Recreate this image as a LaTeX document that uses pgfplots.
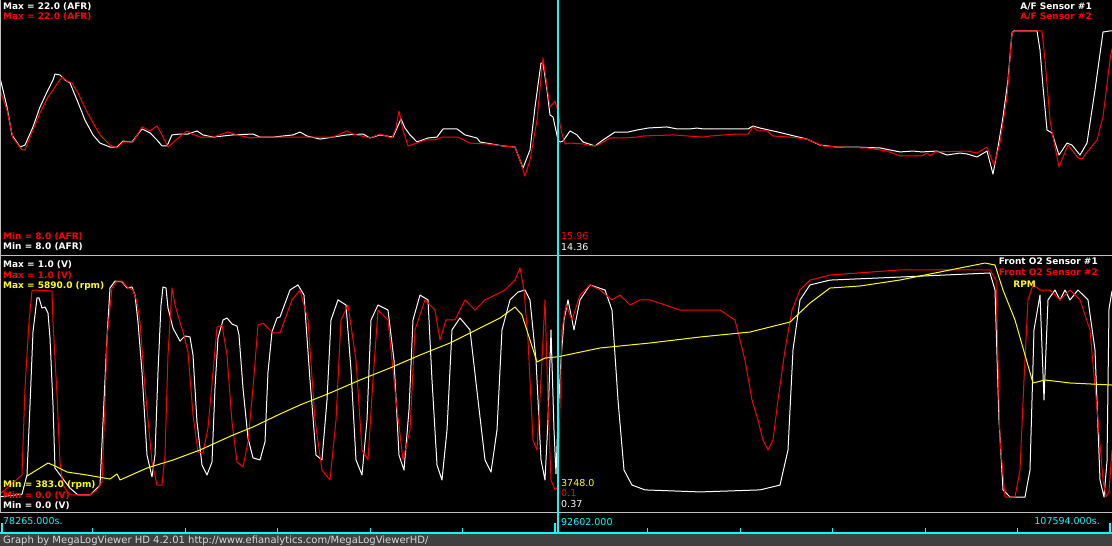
\documentclass[border=0pt]{standalone}
\usepackage{pgfplots}
\pgfplotsset{compat=1.18}
\usepackage{fontspec}
\setmainfont{DejaVu Sans}
\definecolor{mlvgrey}{HTML}{C0C0C0}
\definecolor{footgrey}{HTML}{404040}
\definecolor{foottext}{HTML}{D8D8D8}
\definecolor{mlvred}{HTML}{FF0000}
\definecolor{mlvyellow}{HTML}{FFFF00}
\definecolor{mlvcyan}{HTML}{00FFFF}
\newcommand{\lbl}{\fontsize{9}{9}\selectfont\bfseries}
\newcommand{\val}{\fontsize{9.5}{10}\selectfont}
\pgfplotsset{mlv/.style={scale only axis, anchor=south west, width=1112pt, xmin=0, xmax=1112, axis line style={draw=none}, xtick=\empty, ytick=\empty, clip=true, no markers, every axis plot/.append style={line width=1pt, line join=round}}}
\begin{document}
\begin{tikzpicture}
\useasboundingbox (0pt,0pt) rectangle (1112pt,546pt);
\fill[black] (0pt,0pt) rectangle (1112pt,546pt);
\fill[footgrey] (0pt,0pt) rectangle (1112pt,12.5pt);
% ---------------- top panel: A/F ----------------
\begin{axis}[mlv, at={(0pt,290.8pt)}, height=253.6pt, ymin=8, ymax=22]
\addplot[white] coordinates {
(0,17.78)(3,17.12)(7,16.18)(12,14.64)(20,13.97)(25,14.08)(33,15.08)(40,16.18)(47,17.01)(53,17.67)(55,18.00)(60,17.95)(65,17.67)(70,17.51)(77,16.57)(85,15.46)(93,14.64)(100,14.19)(110,13.97)(117,13.97)(123,14.30)(132,14.25)(142,14.97)(150,14.75)(157,14.36)(162,14.03)(167,14.03)(172,14.64)(180,14.69)(188,14.69)(197,14.86)(203,14.64)(213,14.52)(233,14.64)(253,14.69)(260,14.52)(273,14.52)(293,14.64)(300,14.80)(307,14.58)(320,14.41)(333,14.52)(347,14.64)(363,14.69)(370,14.47)(380,14.64)(393,14.52)(401,15.52)(405,15.02)(410,14.64)(417,14.25)(428,14.47)(437,14.52)(443,14.97)(457,14.97)(465,14.64)(477,14.47)(480,14.25)(503,14.03)(515,13.97)(523,12.81)(530,13.81)(535,16.18)(541,18.61)(543,18.61)(547,17.12)(550,15.74)(553,15.63)(558,14.36)(560,14.25)(563,14.30)(570,14.86)(577,14.64)(583,14.25)(595,14.03)(603,14.36)(615,14.80)(628,14.80)(637,14.91)(648,15.02)(667,15.08)(677,14.97)(690,14.97)(697,15.02)(703,14.97)(740,14.97)(748,14.97)(753,15.13)(760,15.02)(778,14.80)(807,14.41)(820,14.08)(837,13.97)(855,13.97)(880,13.92)(890,13.81)(900,13.70)(913,13.75)(922,13.70)(937,13.75)(947,13.53)(960,13.64)(967,13.59)(977,13.42)(987,13.75)(993,12.48)(998,13.97)(1003,15.63)(1008,17.67)(1012,20.27)(1014,20.38)(1037,20.38)(1040,19.33)(1043,17.29)(1047,14.91)(1052,14.75)(1059,13.53)(1067,14.19)(1072,14.08)(1080,13.53)(1087,14.19)(1095,17.12)(1103,20.32)(1110,20.38)(1112,20.38)
};
\addplot[mlvred] coordinates {
(0,17.12)(7,16.02)(13,14.47)(22,13.81)(25,13.81)(33,14.91)(40,15.85)(48,16.73)(55,17.29)(62,17.84)(67,17.62)(72,17.51)(78,16.95)(87,15.90)(100,14.64)(110,14.08)(117,13.92)(123,14.25)(133,14.25)(142,15.08)(150,14.86)(157,15.13)(162,14.64)(168,13.97)(177,14.41)(187,14.86)(192,14.69)(200,14.52)(213,14.52)(228,14.80)(237,14.64)(250,14.47)(260,14.52)(300,14.52)(333,14.52)(347,14.86)(353,14.69)(370,14.47)(380,14.69)(392,14.47)(396,15.02)(399,15.96)(403,14.91)(408,14.03)(417,14.19)(425,14.36)(435,14.36)(442,14.52)(458,14.52)(470,14.19)(487,14.14)(503,14.03)(515,13.97)(520,13.25)(525,12.37)(530,13.25)(537,15.46)(543,18.89)(547,17.29)(550,16.18)(555,16.51)(558,15.96)(561,14.91)(565,14.14)(570,14.19)(583,14.14)(592,14.03)(598,14.08)(610,14.47)(623,14.47)(637,14.52)(643,14.58)(673,14.64)(703,14.52)(710,14.58)(737,14.69)(748,14.69)(753,15.08)(758,14.86)(767,14.86)(773,14.58)(790,14.52)(807,14.41)(823,14.03)(837,13.97)(867,13.92)(887,13.75)(900,13.48)(922,13.48)(927,13.64)(930,13.48)(935,13.70)(967,13.75)(977,13.64)(987,13.97)(994,12.98)(1000,14.19)(1007,16.73)(1012,20.27)(1015,20.38)(1042,20.38)(1045,18.78)(1050,15.46)(1053,14.52)(1059,12.87)(1068,14.08)(1078,13.37)(1082,13.31)(1088,13.75)(1097,14.36)(1103,15.63)(1110,18.78)(1112,19.4)
};
\end{axis}
% ---------------- bottom panel: O2 sensors ----------------
\begin{axis}[mlv, at={(0pt,34pt)}, height=254pt, ymin=0, ymax=1]
\addplot[white] coordinates {
(0,0.06)(22,0.07)(27,0.146)(30,0.421)(33,0.709)(37,0.843)(39,0.843)(42,0.803)(45,0.807)(48,0.783)(50,0.685)(53,0.421)(55,0.173)(60,0.146)(70,0.094)(78,0.067)(90,0.067)(100,0.106)(103,0.354)(107,0.685)(110,0.882)(115,0.909)(122,0.906)(127,0.882)(132,0.886)(135,0.854)(138,0.748)(142,0.551)(147,0.224)(152,0.138)(155,0.224)(158,0.551)(161,0.815)(163,0.886)(166,0.882)(168,0.803)(173,0.724)(180,0.673)(185,0.693)(190,0.689)(193,0.618)(197,0.354)(202,0.185)(207,0.146)(212,0.197)(215,0.488)(218,0.685)(223,0.756)(227,0.764)(232,0.740)(237,0.732)(239,0.697)(243,0.488)(248,0.291)(253,0.213)(260,0.205)(265,0.276)(268,0.551)(272,0.709)(277,0.764)(280,0.768)(290,0.874)(298,0.894)(304,0.854)(310,0.520)(316,0.224)(322,0.205)(327,0.441)(331,0.756)(338,0.835)(346,0.815)(351,0.559)(356,0.205)(362,0.146)(367,0.362)(371,0.756)(378,0.815)(388,0.795)(394,0.598)(399,0.224)(404,0.165)(409,0.402)(413,0.756)(420,0.854)(428,0.835)(432,0.520)(437,0.185)(442,0.126)(447,0.323)(452,0.717)(460,0.764)(470,0.717)(478,0.441)(485,0.205)(491,0.157)(497,0.323)(502,0.717)(510,0.835)(518,0.866)(525,0.874)(530,0.835)(536,0.598)(541,0.205)(545,0.126)(548,0.362)(551,0.717)(554,0.323)(556,0.15)(558,0.37)(561,0.6)(564,0.756)(568,0.835)(574,0.717)(580,0.835)(590,0.894)(605,0.874)(612,0.795)(618,0.441)(624,0.165)(632,0.106)(645,0.087)(700,0.079)(760,0.087)(780,0.106)(788,0.244)(793,0.638)(800,0.835)(810,0.894)(830,0.913)(900,0.925)(990,0.941)(995,0.874)(999,0.362)(1003,0.087)(1010,0.059)(1025,0.059)(1030,0.165)(1034,0.717)(1040,0.854)(1044,0.441)(1048,0.835)(1055,0.874)(1060,0.835)(1065,0.874)(1070,0.835)(1078,0.874)(1088,0.835)(1095,0.638)(1100,0.126)(1104,0.059)(1107,0.2)(1109,0.8)(1112,0.87)
};
\addplot[mlvred] coordinates {
(0,0.071)(7,0.094)(22,0.146)(25,0.488)(29,0.748)(32,0.870)(33,0.874)(52,0.870)(53,0.748)(57,0.461)(60,0.197)(63,0.106)(70,0.067)(90,0.067)(97,0.087)(102,0.118)(105,0.421)(107,0.685)(112,0.882)(117,0.909)(122,0.909)(127,0.886)(133,0.874)(137,0.827)(140,0.748)(145,0.488)(152,0.197)(157,0.106)(162,0.106)(165,0.224)(168,0.618)(172,0.882)(175,0.815)(180,0.748)(183,0.709)(188,0.630)(193,0.382)(198,0.236)(203,0.232)(208,0.331)(213,0.551)(217,0.728)(222,0.736)(227,0.618)(232,0.354)(237,0.197)(243,0.177)(248,0.276)(253,0.488)(258,0.736)(263,0.744)(267,0.728)(273,0.705)(280,0.705)(292,0.835)(300,0.874)(308,0.756)(315,0.362)(322,0.165)(330,0.126)(336,0.362)(341,0.756)(348,0.815)(356,0.598)(362,0.244)(368,0.205)(373,0.520)(378,0.795)(388,0.756)(396,0.441)(403,0.205)(410,0.323)(415,0.717)(425,0.835)(435,0.795)(440,0.677)(446,0.756)(455,0.756)(465,0.835)(475,0.795)(485,0.835)(495,0.854)(505,0.874)(515,0.913)(520,0.961)(524,0.874)(528,0.677)(533,0.283)(537,0.244)(541,0.520)(545,0.835)(548,0.441)(551,0.126)(555,0.087)(558,0.1)(562,0.717)(566,0.815)(572,0.756)(580,0.854)(590,0.894)(600,0.874)(612,0.835)(620,0.854)(630,0.815)(640,0.835)(650,0.835)(665,0.815)(680,0.795)(700,0.795)(720,0.795)(735,0.756)(745,0.598)(752,0.441)(758,0.362)(763,0.283)(768,0.244)(773,0.283)(778,0.441)(785,0.638)(792,0.795)(800,0.874)(810,0.913)(830,0.933)(900,0.953)(990,0.953)(996,0.913)(1000,0.283)(1005,0.059)(1015,0.059)(1020,0.165)(1024,0.520)(1028,0.835)(1033,0.894)(1040,0.874)(1050,0.874)(1060,0.835)(1070,0.874)(1080,0.835)(1090,0.717)(1098,0.362)(1103,0.126)(1106,0.06)(1109,0.08)(1112,0.244)
};
\end{axis}
% ---------------- bottom panel: RPM ----------------
\begin{axis}[mlv, at={(0pt,34pt)}, height=254pt, ymin=383, ymax=5890]
\addplot[mlvyellow] coordinates {
(27,1164)(48,1445)(55,1380)(67,1250)(87,1185)(110,1098)(117,1207)(120,1077)(147,1337)(173,1510)(200,1727)(233,2052)(253,2226)(280,2508)(300,2703)(330,2963)(360,3245)(390,3505)(420,3787)(450,4047)(480,4372)(500,4589)(515,4827)(522,4654)(530,4112)(537,3635)(545,3722)(558,3748)(600,3939)(650,4047)(700,4177)(750,4285)(790,4502)(810,4914)(830,5239)(860,5283)(900,5413)(950,5630)(985,5781)(995,5738)(1003,5196)(1015,4546)(1025,3787)(1033,3180)(1045,3245)(1070,3180)(1112,3136)
};
\end{axis}
% ---------------- frame and time bar ----------------
\draw[mlvgrey, line width=1.5pt] (0pt,290.5pt) -- (1112pt,290.5pt);
\draw[mlvgrey, line width=1pt] (0pt,33pt) -- (1112pt,33pt);
\draw[mlvgrey, line width=1pt] (0.5pt,33pt) -- (0.5pt,546pt);
\draw[mlvcyan, line width=2pt] (0pt,13pt) -- (1112pt,13pt);
\foreach \t in {92,185,277,370,462,647,740,832,925,1017}
  \draw[mlvcyan, line width=1pt] (\t pt,13pt) -- (\t pt,18pt);
\draw[mlvcyan, line width=2pt] (2pt,13pt) -- (2pt,23pt);
\draw[mlvcyan, line width=2pt] (555pt,13pt) -- (555pt,23pt);
\draw[mlvcyan, line width=2pt] (1110pt,13pt) -- (1110pt,23pt);
\draw[mlvcyan, line width=1.3pt] (558pt,13pt) -- (558pt,546pt);
% ---------------- labels ----------------
\node[anchor=base west, inner sep=0pt, text=white] at (3pt,536.5pt) {\lbl Max = 22.0 (AFR)};
\node[anchor=base west, inner sep=0pt, text=mlvred] at (3pt,526pt) {\lbl Max = 22.0 (AFR)};
\node[anchor=base east, inner sep=0pt, text=white] at (1092pt,536.5pt) {\lbl A/F Sensor \#1};
\node[anchor=base east, inner sep=0pt, text=mlvred] at (1092pt,526pt) {\lbl A/F Sensor \#2};
\node[anchor=base west, inner sep=0pt, text=mlvred] at (3pt,306.5pt) {\lbl Min = 8.0 (AFR)};
\node[anchor=base west, inner sep=0pt, text=white] at (3pt,296pt) {\lbl Min = 8.0 (AFR)};
\node[anchor=base west, inner sep=0pt, text=mlvred] at (561pt,306pt) {\val 15.96};
\node[anchor=base west, inner sep=0pt, text=white] at (561pt,295pt) {\val 14.36};
\node[anchor=base west, inner sep=0pt, text=white] at (3pt,278.5pt) {\lbl Max = 1.0 (V)};
\node[anchor=base west, inner sep=0pt, text=mlvred] at (3pt,267.8pt) {\lbl Max = 1.0 (V)};
\node[anchor=base west, inner sep=0pt, text=mlvyellow] at (3pt,257pt) {\lbl Max = 5890.0 (rpm)};
\node[anchor=base east, inner sep=0pt, text=white] at (1098pt,281.5pt) {\lbl Front O2 Sensor \#1};
\node[anchor=base east, inner sep=0pt, text=mlvred] at (1098pt,270.5pt) {\lbl Front O2 Sensor \#2};
\node[anchor=base east, inner sep=0pt, text=mlvyellow] at (1036pt,258.5pt) {\lbl RPM};
\node[anchor=base west, inner sep=0pt, text=mlvyellow] at (3pt,58.5pt) {\lbl Min = 383.0 (rpm)};
\node[anchor=base west, inner sep=0pt, text=mlvred] at (3pt,47.8pt) {\lbl Min = 0.0 (V)};
\node[anchor=base west, inner sep=0pt, text=white] at (3pt,37pt) {\lbl Min = 0.0 (V)};
\node[anchor=base west, inner sep=0pt, text=mlvyellow] at (561pt,59.3pt) {\val 3748.0};
\node[anchor=base west, inner sep=0pt, text=mlvred] at (561pt,49pt) {\val 0.1};
\node[anchor=base west, inner sep=0pt, text=white] at (561pt,38.3pt) {\val 0.37};
\node[anchor=base west, inner sep=0pt, text=mlvcyan] at (3pt,21.5pt) {\val 78265.000s.};
\node[anchor=base west, inner sep=0pt, text=mlvcyan] at (561pt,20.5pt) {\val 92602.000};
\node[anchor=base east, inner sep=0pt, text=mlvcyan] at (1100pt,21.5pt) {\val 107594.000s.};
\node[anchor=base west, inner sep=0pt, text=foottext] at (3pt,2.7pt) {\fontsize{10}{11}\selectfont Graph by MegaLogViewer HD 4.2.01 http://www.efianalytics.com/MegaLogViewerHD/};
\end{tikzpicture}
\end{document}
